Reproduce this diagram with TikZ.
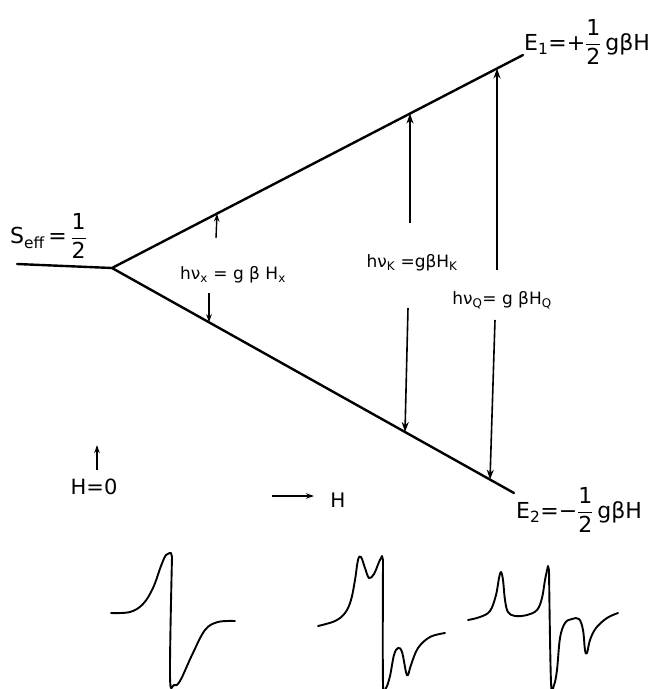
\documentclass[tikz,border=0pt]{standalone}
\usepackage{amsmath}
\usepackage{fontspec}
\setmainfont{DejaVu Sans}
\usetikzlibrary{arrows.meta,calc}
\tikzset{
  energy/.style={
    line width=2.4pt,
    line cap=round
  },
  trans/.style={
    line width=1.6pt,
    -{Stealth[length=10pt,width=7pt]}
  },
  shorttrans/.style={
    line width=1.4pt,
    -{Stealth[length=8pt,width=5.5pt]}
  },
  epr/.style={
    line width=1.9pt,
    line join=round,
    line cap=round
  },
  biglbl/.style={
    inner sep=0pt,
    font=\fontsize{22}{24}\selectfont
  },
  midlbl/.style={
    inner sep=0pt,
    font=\fontsize{17}{19}\selectfont
  }
}
\newcommand{\half}{$\dfrac{\text{1}}{\text{2}}$}
\newcommand{\transarrow}[4][trans]{%
  \coordinate (#2s) at (#3);
  \coordinate (#2t) at (#4);
  \draw[#1] (#2s) -- (#2t);
}

\begin{document}
\begin{tikzpicture}[x=1pt,y=-1pt]
  \useasboundingbox (0,0) rectangle (654,689);

  % --- Zero-field level and its Zeeman split ---
  \coordinate (zero) at (17,264);
  \coordinate (fork) at (112,268);
  \coordinate (upend) at (523,55);
  \coordinate (loend) at (514,493);
  \draw[energy] (zero) -- (fork) -- (upend);
  \draw[energy] (fork) -- (loend);

  \node[biglbl, anchor=west] (seff) at (10,236) {S\textsubscript{eff}\,=\,\half};
  \node[biglbl, anchor=base west] (eone) at (524,50) {E\textsubscript{1}=+\half\,gβH};
  \node[biglbl, anchor=base west] (etwo) at (516,518) {E\textsubscript{2}=−\half\,gβH};

  % --- X band ---
  \transarrow[shorttrans]{xu}{216,238}{217,213.6}
  \transarrow[shorttrans]{xl}{209,293}{209,322.3}
  \node[midlbl] (lblx) at (233,275) {hν\textsubscript{x} = g β H\textsubscript{x}};

  % --- K band ---
  \transarrow{ku}{410,223}{410,113.6}
  \transarrow{kl}{408,308}{405,432}
  \node[midlbl] (lblk) at (412,263) {hν\textsubscript{K} =gβH\textsubscript{K}};

  % --- Q band ---
  \transarrow{qu}{497,270}{497,68.5}
  \transarrow{ql}{495,320}{490,479.6}
  \node[midlbl] (lblq) at (502,300) {hν\textsubscript{Q}= g βH\textsubscript{Q}};

  % --- Field direction ---
  \transarrow[shorttrans]{hz}{97,470}{97,445}
  \node[biglbl, font=\fontsize{21}{23}\selectfont] (hzero) at (94,487) {H=0};
  \transarrow[shorttrans]{hd}{272,496}{314,496}
  \node[biglbl, font=\fontsize{20}{22}\selectfont] (hdir) at (338,500) {H};

  % --- Spectra ---
  \draw[epr] plot[smooth, tension=.6] coordinates {(111,613) (130,612) (143,604) (153,588) (161,566) (166,555) (171,553)}
    -- plot[smooth, tension=.6] coordinates {(172,557) (170,676) (174,685) (180,681) (192,655) (205,630) (218,622) (235,621)};
  \draw[epr] plot[smooth, tension=.6] coordinates {(318,626) (335,621) (345,613) (351,600) (355,580) (358,560) (361,557) (365,568) (369,578) (374,574) (379,562) (382,556)}
    -- plot[smooth, tension=.6] coordinates {(383,560) (383,684) (386,688) (390,676) (394,655) (398,648) (402,652) (406,672) (408,675) (411,665) (418,648) (430,637) (445,633)};
  \draw[epr] plot[smooth, tension=.6] coordinates {(468,620) (480,617) (490,611) (496,595) (499,578) (501,572) (503,580) (505,600) (508,612) (515,616) (527,615) (537,610) (542,598) (545,580) (548,566)}
    -- plot[smooth, tension=.6] coordinates {(549,570) (551,682) (554,685) (557,670) (560,638) (565,623) (572,619) (579,619) (583,630) (585,650) (587,653) (590,640) (596,628) (607,618) (618,613)};
\end{tikzpicture}
\end{document}
